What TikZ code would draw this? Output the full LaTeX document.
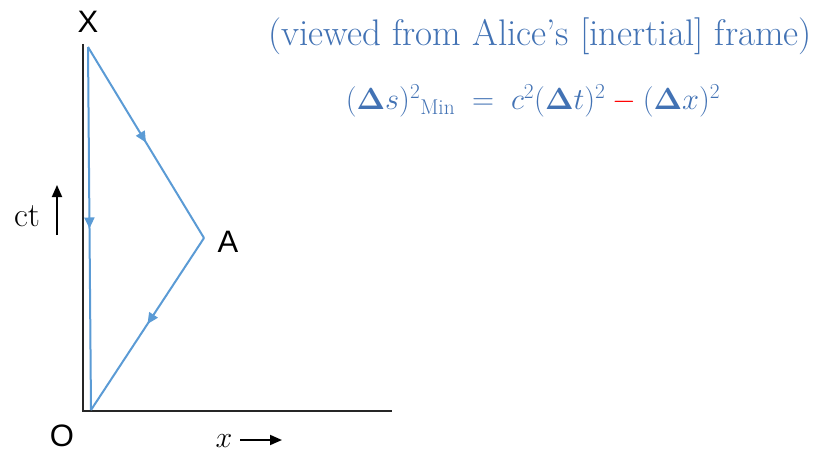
\RequirePackage{fix-cm}
\documentclass[tikz,border=0pt]{standalone}
\usepackage{amsmath}
\usepackage[no-math]{fontspec}
\newfontfamily\lsans{Liberation Sans}
\usetikzlibrary{decorations.markings,arrows.meta}
\definecolor{lineblue}{RGB}{91,155,213}
\definecolor{textblue}{RGB}{66,114,180}
\begin{document}
\begin{tikzpicture}[x=1pt,y=-1pt,
  world/.style={line width=2.8pt,black!85},
  path/.style={line width=2pt,lineblue,postaction={decorate},
    decoration={markings,mark=at position 0.5 with {\arrow{Triangle[width=10pt,length=11pt]}}}},
  plabel/.style={font=\lsans\fontsize{31}{36}\selectfont,inner sep=0pt},
  axarrow/.style={line width=1.8pt,-{Triangle[width=10pt,length=12pt]}},
  ]
\useasboundingbox (0,0) rectangle (825,452);
% axes
\coordinate (top) at (83,44);
\coordinate (orig) at (83,411);
\coordinate (xend) at (392,411);
\draw[world] (top) -- (orig) -- (xend);
% events
\coordinate (X) at (88,47);
\coordinate (A) at (204,238);
\coordinate (O) at (91,410);
\draw[path] (X) -- (A);
\draw[path] (A) -- (O);
\draw[path] (X) -- (O);
% labels
\node[plabel] (lX) at (88,22) {X};
\node[plabel] (lA) at (228,242) {A};
\node[plabel] (lO) at (62,436) {O};
\node[font=\fontsize{34}{38}\selectfont,inner sep=0pt,anchor=base] (ct) at (27,226) {ct};
\coordinate (ctb) at (57,235);
\coordinate (ctt) at (57,185);
\draw[axarrow] (ctb) -- (ctt);
\node[font=\fontsize{30}{34}\selectfont,inner sep=0pt,anchor=base] (xl) at (224,447) {$x$};
\coordinate (xab) at (240,440);
\coordinate (xae) at (282,440);
\draw[axarrow] (xab) -- (xae);
% title
\node[textblue,font=\fontsize{37}{42}\selectfont,inner sep=0pt] (title) at (540,36) {(viewed from Alice's [inertial] frame)};
\node[textblue,font=\fontsize{30.5}{36}\selectfont,inner sep=0pt] (eq) at (533,101)
 {$(\mathbf{\Delta}s)^2{}_{\text{Min}} \;=\; c^2(\mathbf{\Delta}t)^2 \mathbin{\textcolor{red}{-}} (\mathbf{\Delta}x)^2$};
\end{tikzpicture}
\end{document}
